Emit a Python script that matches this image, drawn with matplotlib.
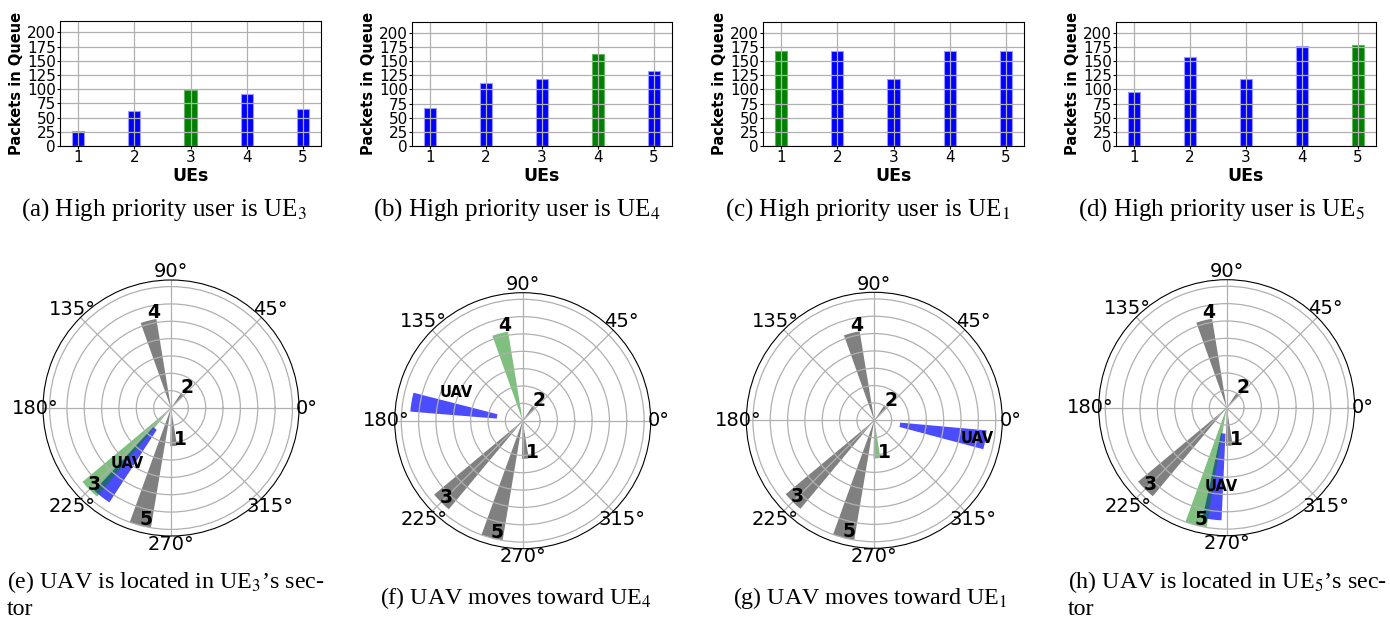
import numpy as np
import matplotlib
matplotlib.use("Agg")
import matplotlib.pyplot as plt

# ---------------- data ----------------
ues = [1, 2, 3, 4, 5]
queue_a = [27, 62, 99, 91, 65]
queue_b = [67, 112, 118, 163, 133]
queue_c = [167, 167, 118, 167, 167]
queue_d = [96, 157, 118, 177, 179]
bar_priority = [3, 4, 1, 5]
yticks_bar = [0, 25, 50, 75, 100, 125, 150, 175, 200]

bar_captions = [
    "(a) High priority user is UE$_3$",
    "(b) High priority user is UE$_4$",
    "(c) High priority user is UE$_1$",
    "(d) High priority user is UE$_5$",
]

# polar: UE positions (angle in degrees, distance)
ue_angle_deg = [274, 51, 225, 104.5, 255.3]
ue_dist = [2.2, 1.05, 6.65, 5.2, 7.0]
ue_names = ["1", "2", "3", "4", "5"]
ue_label_angle_deg = [287, 51, 225, 100.5, 257.3]
ue_label_dist = [1.92, 1.49, 6.25, 5.58, 6.6]

polar_priority = [3, 4, 1, 5]
uav_angle_deg = [232, 170.5, 350, 262.5]
uav_inner = [1.5, 1.5, 1.5, 1.5]
uav_outer = [6.5, 6.5, 6.5, 6.5]
uav_label_angle_deg = [232, 157, 350, 266.4]
uav_label_dist = [4.07, 4.14, 6.0, 4.57]
ring_ticks = [1, 2, 3, 4, 5, 6, 7]
theta_ticks_deg = [0, 45, 90, 135, 180, 225, 270, 315]
theta_tick_labels = ["0°", "45°", "90°", "135°", "180°", "225°", "270°", "315°"]

polar_captions = [
    ("(e) UAV is located in UE$_3$\u2019s sec-\ntor", "left"),
    ("(f) UAV moves toward UE$_4$", "center"),
    ("(g) UAV moves toward UE$_1$", "center"),
    ("(h) UAV is located in UE$_5$\u2019s sec-\ntor", "left"),
]

# ---------------- layout ----------------
W, H = 1390, 623
fig = plt.figure(figsize=(W / 100, H / 100), dpi=100)
plt.rcParams["mathtext.fontset"] = "stix"


def rect(l, t, r, b):
    return [l / W, 1 - b / H, (r - l) / W, (b - t) / H]


bar_boxes = [(60, 21, 321, 146), (412, 21.5, 672, 146),
             (763, 21.5, 1024, 146), (1116, 21.5, 1376, 146)]
bar_caption_x = [164, 517, 868, 1222]
queues = [queue_a, queue_b, queue_c, queue_d]

for box, vals, hi, cap, cx in zip(bar_boxes, queues, bar_priority, bar_captions, bar_caption_x):
    ax = fig.add_axes(rect(*box))
    colors = ["green" if u == hi else "blue" for u in ues]
    edges = ["#66b366" if u == hi else "#9999ff" for u in ues]
    ax.bar(ues, vals, width=0.22, color=colors, edgecolor=edges, linewidth=0.8)
    ax.set_ylim(0, 220)
    ax.set_yticks(yticks_bar)
    ax.set_xticks(ues)
    ax.grid(True, color="#b0b0b0", linewidth=0.9)
    ax.set_ylabel("Packets in Queue", fontweight="bold", fontsize=10.5, labelpad=2)
    ax.set_xlabel("UEs", fontweight="bold", fontsize=12.5, labelpad=1)
    ax.tick_params(labelsize=11, pad=1, length=2)
    fig.text(cx / W, 1 - 216 / H, cap, ha="center", va="baseline",
             fontsize=18, family="Liberation Serif")

polar_centers = [(171, 408), (522.7, 420.7), (874.3, 420.3), (1226.7, 407.7)]
R = 128
rmax = 7.38
cap_pos = [(7, 615), (516, 604), (870, 604), (1068, 615)]

for k, (cx, cy) in enumerate(polar_centers):
    ax = fig.add_axes(rect(cx - R, cy - R, cx + R, cy + R), projection="polar")
    hi = polar_priority[k]
    ax.bar(np.deg2rad(uav_angle_deg[k]), uav_outer[k] - uav_inner[k], width=0.17,
           bottom=uav_inner[k], color="blue", alpha=0.7, linewidth=0)
    for j in range(5):
        if ues[j] == hi:
            ax.bar(np.deg2rad(ue_angle_deg[j]), ue_dist[j], width=0.18,
                   color="green", alpha=0.5, linewidth=0)
        else:
            ax.bar(np.deg2rad(ue_angle_deg[j]), ue_dist[j], width=0.18,
                   color="gray", linewidth=0)
        ax.text(np.deg2rad(ue_label_angle_deg[j]), ue_label_dist[j], ue_names[j],
                fontsize=13.5, fontweight="bold", ha="center", va="center", zorder=5)
    ax.text(np.deg2rad(uav_label_angle_deg[k]), uav_label_dist[k], "UAV",
            fontsize=10.5, fontweight="bold", ha="center", va="center", zorder=5)
    ax.set_ylim(0, rmax)
    ax.set_yticks(ring_ticks)
    ax.set_yticklabels([])
    ax.set_xticks(np.deg2rad(theta_ticks_deg))
    ax.set_xticklabels([])
    ax.grid(True, color="#b0b0b0", linewidth=0.9)
    for a, lab in zip(theta_ticks_deg, theta_tick_labels):
        f = 1.063 if a % 90 == 0 else 1.093
        ax.text(np.deg2rad(a), rmax * f, lab, fontsize=14, ha="center",
                va="center", clip_on=False)
    txt, ha = polar_captions[k]
    px, py = cap_pos[k]
    fig.text(px / W, 1 - py / H, txt, ha=ha, va="baseline", fontsize=17.3,
             family="Liberation Serif", linespacing=1.28)

fig.savefig("out.png", dpi=100)
